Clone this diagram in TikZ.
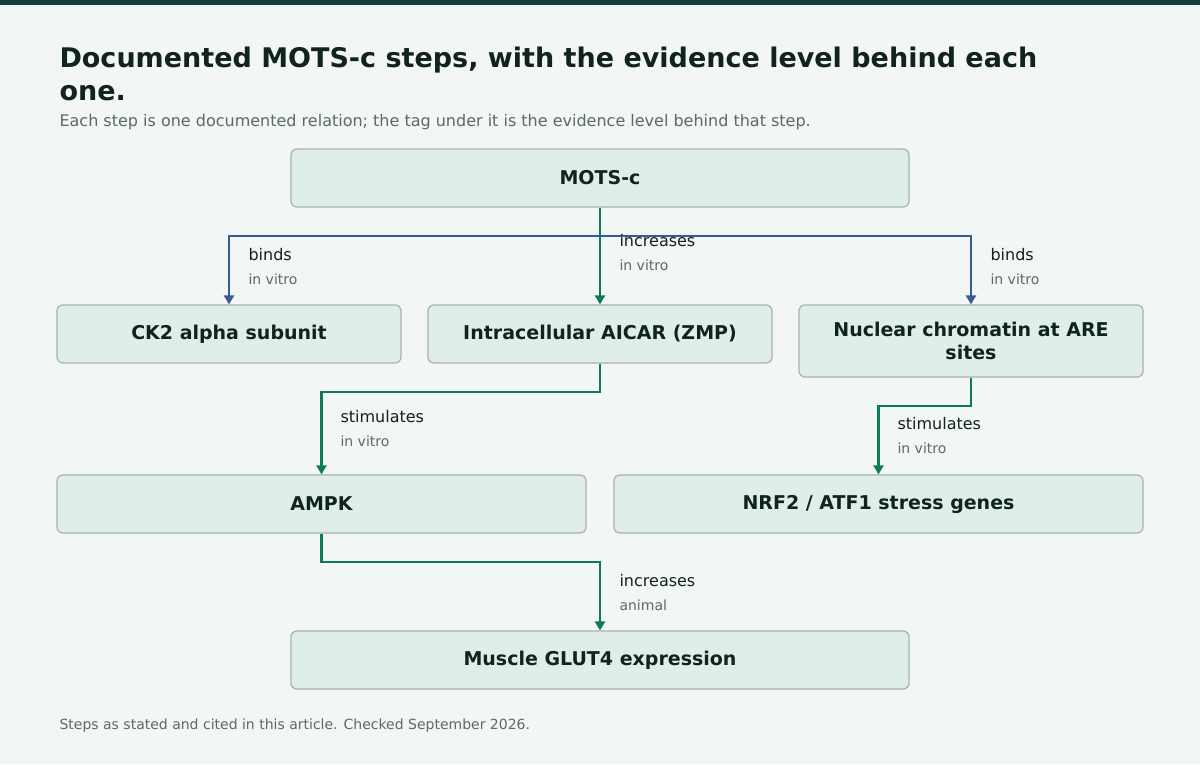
\documentclass[tikz,border=0pt]{standalone}
\usepackage{fontspec}
\setmainfont{DejaVu Sans}
\usetikzlibrary{arrows.meta}
\definecolor{bgc}{HTML}{F2F6F4}
\definecolor{barc}{HTML}{133F3A}
\definecolor{boxc}{HTML}{E0EEEA}
\definecolor{edgec}{HTML}{A8B2AE}
\definecolor{inkc}{HTML}{10231F}
\definecolor{grayc}{HTML}{5A6B66}
\definecolor{bluec}{HTML}{3A5A96}
\definecolor{greenc}{HTML}{0E7A5A}
\tikzset{
  stepbox/.style={draw=edgec, fill=boxc, rounded corners=6pt, line width=1.2pt, align=center,
    text=inkc, font=\fontsize{19}{23}\selectfont\bfseries},
  rel/.style={font=\fontsize{16}{19}\selectfont, text=inkc, anchor=base west},
  lvl/.style={font=\fontsize{14}{17}\selectfont, text=grayc, anchor=base west},
  bluearr/.style={draw=bluec, line width=2.2pt, -{Triangle[length=9pt,width=10pt]}},
  greenarr/.style={draw=greenc, line width=2.2pt, -{Triangle[length=9pt,width=10pt]}},
}
\begin{document}
\begin{tikzpicture}[x=1pt,y=-1pt]
\fill[bgc] (0,0) rectangle (1200,764);
\useasboundingbox (0,0) rectangle (1200,764);
\fill[barc] (0,0) rectangle (1200,5);

\node[anchor=base west, text=inkc, font=\fontsize{27}{33}\selectfont\bfseries, align=left] (title) at (56,67)
  {Documented MOTS-c steps, with the evidence level behind each};
\node[anchor=base west, text=inkc, font=\fontsize{27}{33}\selectfont\bfseries] (title2) at (56,100) {one.};
\node[anchor=base west, text=grayc, font=\fontsize{16}{19}\selectfont] (sub) at (56,126)
  {Each step is one documented relation; the tag under it is the evidence level behind that step.};

% boxes
\node[stepbox, minimum width=618pt, minimum height=58pt] (mots) at (600,178) {MOTS-c};
\node[stepbox, minimum width=344pt, minimum height=58pt] (ck2) at (229,334) {CK2 alpha subunit};
\node[stepbox, minimum width=344pt, minimum height=58pt] (aicar) at (600,334) {Intracellular AICAR (ZMP)};
\node[stepbox, minimum width=344pt, minimum height=72pt] (nuc) at (971,341) {Nuclear chromatin at ARE\\sites};
\node[stepbox, minimum width=529pt, minimum height=58pt] (ampk) at (321.5,504) {AMPK};
\node[stepbox, minimum width=529pt, minimum height=58pt] (nrf) at (878.5,504) {NRF2 / ATF1 stress genes};
\node[stepbox, minimum width=618pt, minimum height=58pt] (glut) at (600,660) {Muscle GLUT4 expression};

% connectors
\coordinate (split) at (600,236);
\draw[bluearr] (mots.south) -- (split) -| (ck2.north);
\draw[bluearr] (split) -| (nuc.north);
\draw[greenarr] (mots.south) -- (aicar.north);
\draw[greenarr] (aicar.south) |- (460,392) -| (ampk.north);
\draw[greenarr] (nuc.south) |- (920,406) -| (nrf.north);
\draw[greenarr] (ampk.south) |- (460,562) -| (glut.north);

% labels
\node[rel] (l1) at (245,260) {binds};
\node[lvl] (e1) at (245,284) {in vitro};
\node[rel] (l2) at (616,246) {increases};
\node[lvl] (e2) at (616,270) {in vitro};
\node[rel] (l3) at (987,260) {binds};
\node[lvl] (e3) at (987,284) {in vitro};
\node[rel] (l4) at (337,422) {stimulates};
\node[lvl] (e4) at (337,446) {in vitro};
\node[rel] (l5) at (894,429) {stimulates};
\node[lvl] (e5) at (894,453) {in vitro};
\node[rel] (l6) at (616,586) {increases};
\node[lvl] (e6) at (616,610) {animal};

\node[anchor=base west, text=grayc, font=\fontsize{14}{17}\selectfont] (foot) at (56,729)
  {Steps as stated and cited in this article. Checked September 2026.};
\end{tikzpicture}
\end{document}
